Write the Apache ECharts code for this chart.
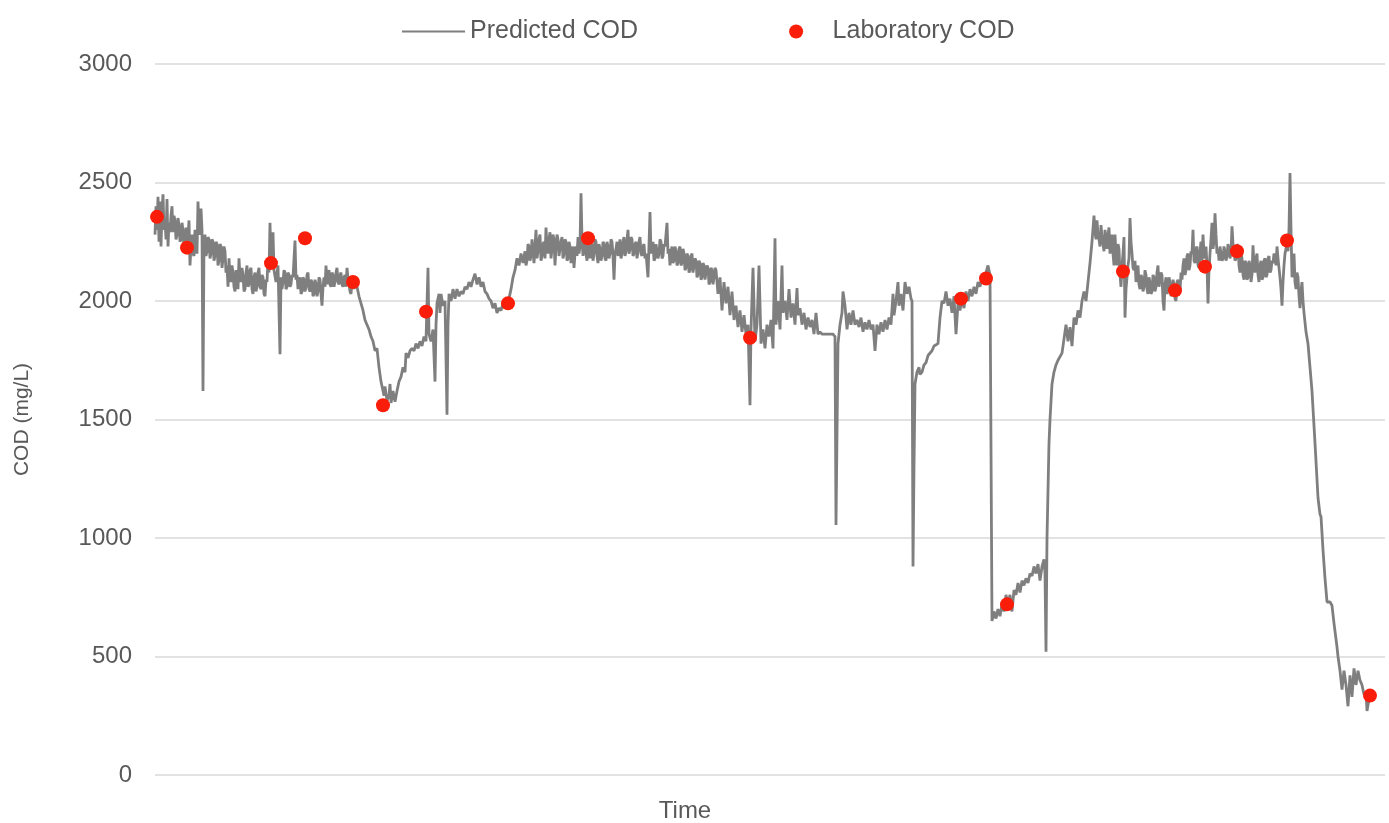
<!DOCTYPE html>
<html>
<head>
<meta charset="utf-8">
<script src="https://cdn.jsdelivr.net/npm/echarts@6/dist/echarts.min.js"></script>
<style>
html,body{margin:0;padding:0;background:#fff;}
#chart{width:1389px;height:823px;}
</style>
</head>
<body>
<div id="chart"></div>
<script>
// Y-axis ticks
const yTicks = [0, 500, 1000, 1500, 2000, 2500, 3000];
// Predicted COD: [time index, COD mg/L]
const predicted = [
[0,2280],[1,2400],[2,2300],[3,2440],[4,2250],[5,2420],[6,2230],[7,2380],[8,2450],[9,2300],
[10,2340],[11,2260],[12,2430],[13,2230],[14,2330],[15,2290],[16,2360],[17,2400],[18,2290],[19,2360],[20,2340],[21,2260],[22,2280],
[23,2350],[24,2320],[25,2250],[26,2260],[27,2330],[28,2300],[29,2220],[30,2250],[31,2310],[32,2200],[33,2270],[34,2340],[35,2150],[36,2230],[37,2280],[38,2200],[39,2190],[40,2300],[41,2260],
[42,2200],[43,2420],[44,2300],[45,2280],[46,2390],[47,2300],[48,1620],[49,2250],[50,2280],[51,2190],[52,2210],[53,2270],[54,2260],
[55,2180],[56,2200],[57,2260],[58,2250],[59,2170],[60,2190],[61,2250],[62,2240],[63,2150],[64,2170],[65,2240],[66,2230],[67,2140],[68,2180],[69,2230],[70,2210],[71,2120],[72,2150],[73,2060],
[74,2180],[75,2100],[76,2080],[77,2150],[78,2120],[79,2060],[80,2040],[81,2130],[82,2090],[83,2050],[84,2180],[85,2100],[86,2080],[87,2140],[88,2110],[89,2040],[90,2050],[91,2120],[92,2150],
[93,2060],[94,2070],[95,2130],[96,2140],[97,2050],[98,2030],[99,2100],[100,2120],[101,2040],[102,2060],[103,2120],[104,2140],[105,2060],[106,2050],[107,2110],[108,2100],[109,2030],[110,2020],[111,2090],[112,2080],
[113,2180],[114,2120],[115,2330],[116,2150],[118,2290],[119,2130],[121,2080],[123,2150],[125,1775],[126,2100],
[127,2050],[128,2080],[129,2130],[130,2120],[131,2050],[132,2060],[133,2120],[134,2110],[135,2060],[136,2070],[137,2110],[138,2100],[140,2255],[141,2090],[142,2110],[143,2050],[144,2080],[145,2100],
[146,2030],[147,2040],[148,2100],[149,2090],[150,2040],[151,2060],[152,2110],[153,2120],[154,2050],[155,2040],[156,2090],[157,2080],[158,2020],[159,2030],[160,2090],[161,2070],[162,2020],[163,2040],[164,2100],[165,2090],
[166,2030],[167,1980],[168,2060],[169,2100],[170,2060],[171,2150],[172,2070],[173,2120],[174,2130],[175,2070],[176,2060],[177,2120],[178,2110],[179,2060],[180,2080],[181,2120],[182,2140],[183,2080],[184,2070],
[185,2110],[186,2120],[187,2070],[188,2060],[189,2100],[190,2110],[191,2060],[192,2140],[193,2090],[194,2070],[195,2040],[196,2030],[197,2080],[198,2100],[199,2050],[200,2080],
[202,2060],[204,2020],[206,1990],[208,1960],[210,1920],[212,1900],[214,1880],[216,1850],[218,1830],[220,1790],
[222,1800],[224,1720],[226,1660],[228,1620],[229,1600],[230,1640],[232,1580],[234,1600],[235,1650],[236,1570],
[238,1620],[240,1575],[242,1620],[244,1660],[246,1680],[248,1720],[250,1700],[251,1780],[253,1760],[255,1790],
[257,1800],[259,1790],[261,1820],[263,1800],[265,1830],[267,1810],[269,1850],[271,1830],[273,2140],[274,1860],
[276,1830],[278,1880],[280,1660],[281,1900],[282,1990],[284,2030],[285,1950],[286,2030],[288,1980],[290,2000],
[292,1520],[293,1900],[294,2030],[296,2000],[298,2050],[300,2010],[302,2050],[304,2020],[306,2040],[308,2030],
[310,2060],[312,2050],[314,2080],[316,2060],[318,2090],[320,2115],[322,2070],[324,2100],[326,2060],[328,2080],
[330,2040],[332,2030],[334,2010],[336,2000],[338,1970],[340,1990],[342,1950],[344,1970],[346,1960],[348,1990],
[350,1975],[352,2000],[354,2010],[356,2050],[358,2100],[360,2130],[362,2180],[364,2150],[366,2200],[368,2160],
[370,2210],[371,2150],[372,2170],[373,2240],[374,2230],[375,2170],[376,2190],[377,2260],[378,2210],[379,2160],[380,2230],[381,2300],[382,2180],[383,2210],[384,2260],[385,2280],[386,2170],[387,2190],
[388,2240],[389,2250],[390,2180],[391,2310],[392,2230],[393,2200],[394,2260],[395,2290],[396,2180],[397,2220],[398,2280],[399,2260],[400,2150],[401,2230],[402,2280],[403,2260],[404,2190],[405,2220],
[406,2250],[407,2270],[408,2180],[409,2200],[410,2260],[411,2250],[412,2170],[413,2180],[414,2250],[415,2230],[416,2160],[417,2190],[418,2230],[419,2140],[420,2200],[421,2230],[422,2190],[423,2270],[424,2200],[425,2230],
[426,2455],[427,2260],[428,2190],[429,2230],[430,2260],[431,2200],[432,2170],[433,2250],[434,2210],[435,2180],[436,2230],[437,2240],[438,2170],[439,2200],[440,2260],[441,2250],[442,2190],[443,2160],
[444,2240],[445,2220],[446,2170],[447,2190],[448,2250],[449,2240],[450,2180],[451,2170],[452,2250],[453,2230],[454,2180],[455,2200],[456,2260],[457,2250],[458,2190],[459,2090],[460,2200],[461,2220],[462,2250],[463,2190],
[464,2220],[465,2260],[466,2180],[467,2200],[468,2250],[469,2270],[470,2190],[471,2210],[472,2260],[473,2300],[474,2200],[475,2220],[476,2270],[477,2260],[478,2190],[479,2200],[480,2240],[481,2250],[482,2180],[483,2210],
[484,2250],[485,2270],[486,2200],[487,2190],[488,2230],[489,2240],[490,2180],[491,2200],[493,2100],[495,2375],[496,2200],[497,2230],[498,2250],[499,2170],[500,2180],[501,2240],[502,2240],
[503,2180],[504,2200],[505,2260],[506,2250],[507,2180],[508,2190],[509,2240],[510,2230],[512,2330],[513,2200],[514,2220],[515,2150],[516,2200],[517,2230],[518,2160],[519,2170],[520,2230],[521,2210],
[522,2150],[523,2160],[524,2220],[525,2230],[526,2150],[527,2160],[528,2220],[529,2200],[530,2130],[531,2140],[532,2200],[533,2190],[534,2120],[535,2130],[536,2190],[537,2200],[538,2120],[539,2120],[540,2180],[541,2170],
[542,2100],[543,2110],[544,2170],[545,2160],[546,2090],[547,2100],[548,2160],[549,2150],[550,2090],[551,2120],[552,2150],[553,2140],[554,2070],[555,2080],[556,2140],[557,2130],[558,2070],[559,2100],[560,2140],[561,2130],
[563,2030],[565,2100],[567,1960],[569,2080],[571,1990],[573,2060],[575,1940],[577,2040],[579,1920],[581,1980],
[583,1890],[585,1960],[587,1870],[589,1940],[591,1860],[593,1900],[595,1560],[596,1880],[598,2140],[600,1830],
[602,1900],[604,2150],[606,1820],[608,1880],[610,1800],[612,1900],
[614,1850],[616,1920],[618,1800],[620,2265],[621,1900],[623,2000],[625,1880],[627,2150],[628,1950],[630,2000],
[632,1920],[634,2050],[636,1930],[638,1990],[640,1900],[642,2055],[643,1940],[645,1970],[647,1900],[649,1950],
[651,1880],[653,1930],[655,1890],[657,1920],[659,1860],[661,1950],[663,1860],[665,1870],[667,1860],[678,1860],
[680,1850],[681,1055],[683,1820],[685,1900],[687,1950],[688,2040],[690,1980],[692,1880],[694,1950],[696,1900],
[698,1960],[700,1900],[702,1920],[704,1890],[706,1930],[708,1870],[710,1910],[712,1880],[714,1920],[716,1880],
[718,1900],[720,1790],[722,1900],[724,1860],[726,1910],[728,1870],[730,1920],[732,1880],[734,1930],[736,1900],
[738,2030],[739,1940],[741,2000],[743,2080],[744,1980],[746,2030],[748,1960],[750,2080],[752,2030],[754,2060],
[756,2010],[757,2000],[758,880],[759,1300],[760,1650],[762,1700],[764,1720],[765,1690],[767,1700],[769,1730],
[771,1740],[773,1770],[775,1770],[777,1790],[779,1810],[781,1810],[783,1820],[785,1930],[787,2000],[789,1990],
[791,2040],[793,1980],[795,2010],[797,1950],[799,2020],[801,1860],[803,1990],[805,1960],[807,2010],[809,1970],
[811,2040],[813,2000],[815,2050],[817,2020],
[819,2060],[821,2030],[823,2080],[825,2060],[827,2100],[829,2090],[831,2120],[833,2150],[835,2110],[836,2110],
[837,650],[839,690],[841,660],[843,700],[845,670],[847,720],[849,690],[851,760],[853,720],[855,760],
[857,690],[859,780],[861,760],[863,810],[865,770],[867,820],[869,800],[871,830],[873,810],[875,850],
[877,840],[879,880],[881,850],[883,890],[885,820],[887,880],[889,910],[890,850],[891,520],[892,1000],
[893,1200],[894,1400],[895,1500],[897,1650],[899,1700],[901,1730],[903,1750],[905,1750],[907,1780],[909,1780],
[911,1900],[913,1830],[915,1890],[917,1810],[919,1930],[921,1900],[923,1960],[925,1930],[927,2000],[929,2040],
[931,2000],[933,2080],[935,2160],[937,2250],[939,2360],[940,2290],[941,2260],[942,2340],[943,2280],[944,2260],[945,2230],[946,2320],[947,2270],[948,2240],[949,2210],
[950,2300],[951,2260],[952,2220],[953,2280],[954,2310],[955,2200],[956,2250],[957,2280],[958,2200],[959,2150],[960,2280],[961,2200],[962,2150],[963,2240],[964,2220],[965,2110],[966,2060],[967,2150],[968,2200],
[969,2270],[970,1930],[971,2050],[972,2100],[973,2150],[974,2180],[975,2350],[976,2250],[977,2200],[978,2140],[979,2130],[980,2170],[981,2080],[982,2120],[983,2150],[984,2070],[985,2050],
[986,2110],[987,2100],[988,2040],[989,2060],[990,2130],[991,2110],[992,2050],[993,2030],[994,2100],[995,2080],[996,2030],[997,2040],[998,2110],[999,2100],[1000,2040],[1001,2060],[1002,2120],[1003,2150],[1004,2060],[1005,2060],
[1006,2120],[1007,2110],[1008,2000],[1009,1960],[1010,2070],[1011,2100],[1012,2030],[1013,2050],[1014,2100],[1015,2080],[1016,2020],[1017,2030],[1018,2090],[1019,2070],[1020,2010],[1021,2000],[1022,2080],[1023,2090],[1024,2030],[1025,2040],
[1026,2120],[1027,2090],[1028,2150],[1029,2180],[1030,2110],[1031,2130],[1032,2190],[1033,2200],[1034,2130],[1035,2150],[1036,2210],[1037,2200],[1038,2300],[1039,2170],[1040,2160],[1041,2220],[1042,2230],[1043,2150],[1044,2140],
[1045,2210],[1046,2250],[1047,2170],[1048,2280],[1049,2200],[1050,2180],[1051,2230],[1052,2150],[1053,1990],[1054,2130],[1055,2200],[1056,2260],[1057,2330],[1058,2220],[1059,2250],[1060,2370],[1061,2280],[1062,2200],
[1063,2220],[1064,2170],[1065,2230],[1066,2200],[1067,2170],[1068,2180],[1069,2230],[1070,2210],[1071,2170],[1072,2190],[1073,2240],[1074,2220],[1075,2180],[1076,2200],[1077,2315],[1078,2240],[1079,2220],[1080,2170],[1081,2180],
[1082,2240],[1083,2230],[1084,2150],[1085,2120],[1086,2200],[1087,2180],[1088,2110],[1089,2090],[1090,2170],[1091,2160],[1092,2090],[1093,2100],[1094,2170],[1095,2150],[1096,2080],[1097,2110],[1098,2235],[1099,2150],[1100,2120],
[1101,2180],[1102,2200],[1103,2110],[1104,2080],[1105,2150],[1106,2170],[1107,2090],[1108,2100],[1109,2170],[1110,2180],[1111,2100],[1112,2110],[1113,2180],[1114,2190],[1115,2120],[1116,2130],[1117,2170],[1118,2160],[1119,2200],[1120,2190],
[1121,2150],[1122,2230],[1123,2180],[1124,2140],[1125,2100],[1126,2050],[1127,1980],[1128,2080],[1129,2150],[1130,2200],[1131,2220],[1132,2250],[1133,2210],[1134,2300],[1135,2540],[1136,2300],[1137,2100],
[1138,2150],[1139,2200],[1140,2080],[1141,2050],[1142,2120],[1143,2100],[1144,2020],[1145,1970],[1146,2040],[1147,2080],[1148,2000],[1149,1950],[1151,1870],[1153,1820],[1155,1720],[1157,1620],
[1160,1400],[1163,1170],[1165,1100],[1166,1090],[1168,950],[1170,830],[1172,730],[1175,730],[1177,715],[1179,640],
[1182,540],[1183,500],[1185,440],[1187,360],[1189,440],[1191,380],[1193,290],[1195,420],[1197,330],[1199,450],
[1201,380],[1203,440],[1205,400],[1207,380],[1209,340],[1211,350],[1212,270],[1214,320]
];
// Laboratory COD samples
const labTime = [2, 32, 116, 150, 198, 228, 271, 353, 433, 595, 806, 831, 852, 968, 1020, 1050, 1082, 1132, 1215];
const labCOD  = [2355, 2225, 2160, 2265, 2080, 1560, 1955, 1990, 2265, 1845, 2010, 2095, 720, 2125, 2045, 2145, 2210, 2255, 335];

const labData = labTime.map((t, i) => [t, labCOD[i]]);
const txt = '#595959';
const chart = echarts.init(document.getElementById('chart'), null, {renderer: 'canvas'});
chart.setOption({
  animation: false,
  backgroundColor: '#ffffff',
  textStyle: {fontFamily: 'Liberation Sans, Arial, sans-serif'},
  legend: {
    data: [
      {name: 'Predicted COD', itemStyle: {opacity: 0}},
      {name: 'Laboratory COD'}
    ],
    left: 396, top: 14,
    itemWidth: 63, itemHeight: 14, itemGap: 151,
    textStyle: {fontSize: 25, color: txt}
  },
  grid: {left: 155, right: 4, top: 64, bottom: 48, containLabel: false, outerBoundsMode: 'none'},
  xAxis: {
    type: 'value', min: 0, max: 1230,
    name: 'Time', nameLocation: 'middle', nameGap: 24,
    nameTextStyle: {fontSize: 24, color: txt, padding: [0, 170, 0, 0]},
    axisLabel: {show: false}, axisTick: {show: false},
    axisLine: {show: false}, splitLine: {show: false}
  },
  yAxis: {
    type: 'value', min: yTicks[0], max: yTicks[yTicks.length - 1], interval: 500,
    name: 'COD (mg/L)', nameLocation: 'middle', nameGap: 122,
    nameTextStyle: {fontSize: 21, color: txt},
    axisLabel: {fontSize: 24, color: txt, margin: 23, formatter: v => String(v)},
    axisTick: {show: false}, axisLine: {show: false},
    splitLine: {lineStyle: {color: '#d9d9d9', width: 1.5}}
  },
  series: [
    {
      name: 'Predicted COD', type: 'line', data: predicted,
      symbol: 'none', showSymbol: false,
      lineStyle: {color: '#7f7f7f', width: 2.8},
      itemStyle: {color: '#7f7f7f'}, z: 2
    },
    {
      name: 'Laboratory COD', type: 'scatter', data: labData,
      symbol: 'circle', symbolSize: 14,
      itemStyle: {color: '#fa1e0a', opacity: 1}, z: 3
    }
  ]
});
</script>
</body>
</html>
